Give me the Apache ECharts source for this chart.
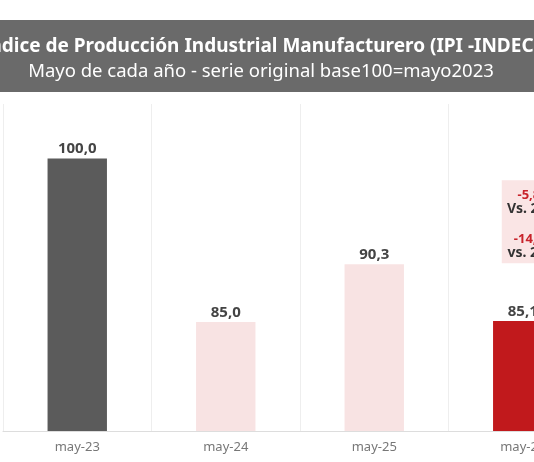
<!DOCTYPE html>
<html>
<head>
<meta charset="utf-8">
<script src="https://cdn.jsdelivr.net/npm/echarts@6/dist/echarts.min.js"></script>
<style>
  html, body { margin: 0; padding: 0; overflow: hidden; background: #fff; }
  #chart { width: 600px; height: 462px; }
</style>
</head>
<body>
<div id="chart"></div>
<script>
// datos
const categories = ["may-23", "may-24", "may-25", "may-26"];
const values = [100.0, 85.0, 90.3, 85.1];
const barColors = ["#5b5b5b", "#f8e3e3", "#f8e3e3", "#c1191c"];
const notaVar = ["-5,8%", "Vs. 2025", "-14,9%", "vs. 2023"];
const notaPos = ["may-26", 94.2];

const titulo = "Índice de Producción Industrial Manufacturero (IPI -INDEC)";
const subtitulo = "Mayo de cada año - serie original base100=mayo2023";

const chart = echarts.init(document.getElementById("chart"));

let option = {
  animation: false,
  textStyle: { fontFamily: "Noto Sans" },
  graphic: [
    {
      type: "rect",
      left: 0, top: 20,
      shape: { width: 600, height: 72 },
      style: { fill: "#6a6a6a" }
    },
    {
      type: "text",
      x: 261, y: 47,
      style: {
        text: titulo, fill: "#fff", font: "bold 19px 'Noto Sans'",
        align: "center", verticalAlign: "middle"
      }
    },
    {
      type: "text",
      x: 261, y: 72,
      style: {
        text: subtitulo, fill: "#fff", font: "18.5px 'Noto Sans'",
        align: "center", verticalAlign: "middle"
      }
    }
  ],
  grid: { left: 3, right: 3, top: 104, bottom: 31 },
  xAxis: {
    type: "category",
    data: categories,
    axisLine: { lineStyle: { color: "#dddddd" } },
    axisTick: { show: false },
    axisLabel: { color: "#777", fontSize: 13, margin: 10 },
    splitLine: { show: true, lineStyle: { color: "#eeeeee", width: 1 } }
  },
  yAxis: {
    type: "value",
    min: 75, max: 105,
    show: false,
    splitLine: { show: false }
  },
  series: [
    {
      type: "bar",
      barWidth: "40%",
      data: values.map((v, i) => ({ value: v, itemStyle: { color: barColors[i] } })),
      label: {
        show: true,
        position: "top",
        distance: 2,
        color: "#444",
        fontWeight: "bold",
        fontSize: 15,
        formatter: p => p.value.toFixed(1).replace(".", ",")
      },
      markPoint: {
        symbol: "circle",
        symbolSize: 1,
        itemStyle: { color: "transparent" },
        data: [{ coord: notaPos }],
        label: {
          show: true,
          position: "inside",
          offset: [12, 0],
          backgroundColor: "#fae5e5",
          width: 62,
          align: "center",
          padding: [9, 2, 4, 2],
          formatter: "{r|" + notaVar[0] + "}\n{b|" + notaVar[1] + "}\n{s|}\n{r|" + notaVar[2] + "}\n{b|" + notaVar[3] + "}",
          rich: {
            r: { color: "#c8232b", fontWeight: "bold", fontSize: 13, lineHeight: 13, align: "center" },
            b: { color: "#333", fontWeight: "bold", fontSize: 14, lineHeight: 13, align: "center" },
            s: { lineHeight: 18 }
          }
        }
      }
    }
  ]
};

chart.setOption(option);
</script>
</body>
</html>
